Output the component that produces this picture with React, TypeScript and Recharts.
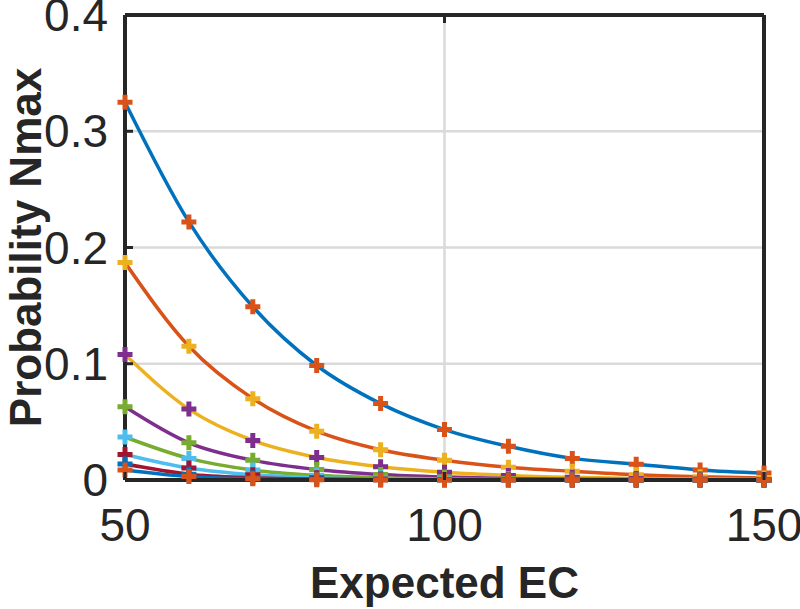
import React from 'react';
import { LineChart, Line, XAxis, YAxis, CartesianGrid } from 'recharts';

// Expected EC (x) and the probability curves
const expectedEC = [50, 60, 70, 80, 90, 100, 110, 120, 130, 140, 150];
const curve1 = [0.325, 0.222, 0.149, 0.0985, 0.0657, 0.0434, 0.029, 0.0186, 0.0136, 0.0087, 0.006];
const curve2 = [0.187, 0.115, 0.070, 0.042, 0.026, 0.017, 0.011, 0.0075, 0.0045, 0.0028, 0.0018];
const curve3 = [0.108, 0.061, 0.034, 0.0194, 0.0114, 0.0066, 0.0039, 0.0023, 0.0013, 0.0008, 0.0005];
const curve4 = [0.063, 0.032, 0.017, 0.009, 0.0047, 0.0025, 0.0013, 0.0007, 0.0004, 0.0002, 0.0001];
const curve5 = [0.037, 0.0186, 0.0086, 0.004, 0.0019, 0.0009, 0.0004, 0.0002, 0.0001, 0.00005, 0.00002];
const curve6 = [0.022, 0.0103, 0.0045, 0.002, 0.0009, 0.0004, 0.0002, 0.0001, 0.00004, 0.00002, 0.00001];
const curve7 = [0.0137, 0.005, 0.002, 0.0008, 0.0003, 0.0001, 0.00005, 0.00002, 0.00001, 0, 0];
const curve8 = [0.0086, 0.003, 0.001, 0.0003, 0.0001, 0.00004, 0.00001, 0, 0, 0, 0];

const xTicks = [50, 100, 150];
const yTicks = [0, 0.1, 0.2, 0.3, 0.4];

// matlab default colour order
const ORDER = ['#0072BD', '#D95319', '#EDB120', '#7E2F8E', '#77AC30', '#4DBEEE', '#A2142F'];

const curves = [curve1, curve2, curve3, curve4, curve5, curve6, curve7, curve8];
const data = expectedEC.map((x, i) => {
  const row: Record<string, number> = { x };
  curves.forEach((c, k) => { row[`s${k + 1}`] = c[i]; });
  return row;
});

const FONT = '"Liberation Sans", Arial, Helvetica, sans-serif';
const INK = '#262626';
const TICK_LEN = 8;

const LeftTick: React.FC<any> = ({ x, y, payload }) => (
  <g>
    <line x1={x} x2={x + TICK_LEN} y1={y} y2={y} stroke={INK} strokeWidth={3} />
    <text x={x - 17} y={y + 16} textAnchor="end" fontSize={46} fontFamily={FONT} fill={INK}>
      {payload.value === 0 ? '0' : Number(payload.value).toFixed(1)}
    </text>
  </g>
);

const RightTick: React.FC<any> = ({ x, y }) => (
  <line x1={x} x2={x - TICK_LEN} y1={y} y2={y} stroke={INK} strokeWidth={3} />
);

const BottomTick: React.FC<any> = ({ x, y, payload }) => (
  <g>
    <line x1={x} x2={x} y1={y} y2={y - TICK_LEN} stroke={INK} strokeWidth={3} />
    <text x={x} y={y + 61} textAnchor="middle" fontSize={46} fontFamily={FONT} fill={INK}>
      {payload.value}
    </text>
  </g>
);

const TopTick: React.FC<any> = ({ x, y }) => (
  <line x1={x} x2={x} y1={y} y2={y + TICK_LEN} stroke={INK} strokeWidth={3} />
);

const plusDot = (color: string) => (props: any) => {
  const { cx, cy, index } = props;
  if (cx == null || cy == null) return <g key={index} />;
  const h = 7.5;
  return (
    <path key={index} d={`M${cx - h},${cy}H${cx + h}M${cx},${cy - h}V${cy + h}`}
      stroke={color} strokeWidth={5} fill="none" />
  );
};

export default function App() {
  return (
    <div style={{ position: 'absolute', left: 0, top: 0, width: 800, height: 609, background: '#fff' }}>
      <LineChart width={800} height={609} data={data} margin={{ top: 14, right: 35, bottom: 0, left: 0 }}>
        <CartesianGrid xAxisId="bottom" yAxisId="left" stroke="#dadada" strokeWidth={2.5}
          verticalValues={[100]} horizontalValues={[0.1, 0.2, 0.3]} />
        <XAxis xAxisId="bottom" dataKey="x" type="number" domain={[50, 150]} ticks={xTicks} interval={0}
          height={129} tickSize={0} tickMargin={0} tickLine={false} tick={<BottomTick />}
          axisLine={{ stroke: INK, strokeWidth: 4 }}
          label={({ viewBox }: any) => (
            <text x={viewBox.x + viewBox.width / 2} y={viewBox.y + 118} textAnchor="middle"
              fontSize={44} fontWeight="bold" fontFamily={FONT} fill={INK}>Expected EC</text>
          )} />
        <XAxis xAxisId="top" orientation="top" dataKey="x" type="number" domain={[50, 150]} ticks={xTicks}
          interval={0} height={1} tickSize={0} tickMargin={0} tickLine={false} tick={<TopTick />}
          axisLine={{ stroke: INK, strokeWidth: 4 }} />
        <YAxis yAxisId="left" type="number" domain={[0, 0.4]} ticks={yTicks} interval={0} width={125}
          tickSize={0} tickMargin={0} tickLine={false} tick={<LeftTick />}
          axisLine={{ stroke: INK, strokeWidth: 4 }}
          label={({ viewBox }: any) => {
            const cy = viewBox.y + viewBox.height / 2;
            return (
              <text x={41} y={cy} transform={`rotate(-90 41 ${cy})`} textAnchor="middle"
                fontSize={44} fontWeight="bold" fontFamily={FONT} fill={INK}>Probability Nmax</text>
            );
          }} />
        <YAxis yAxisId="right" orientation="right" type="number" domain={[0, 0.4]} ticks={yTicks} interval={0}
          width={1} tickSize={0} tickMargin={0} tickLine={false} tick={<RightTick />}
          axisLine={{ stroke: INK, strokeWidth: 4 }} />

        {/* lines first, markers after (as matlab draws them) */}
        {curves.map((_, k) => (
          <Line key={`l${k}`} xAxisId="bottom" yAxisId="left" type="monotone" dataKey={`s${k + 1}`}
            stroke={ORDER[k % 7]} strokeWidth={3.5} dot={false} activeDot={false} isAnimationActive={false} />
        ))}
        {curves.map((_, k) => (
          <Line key={`m${k}`} xAxisId="bottom" yAxisId="left" type="monotone" dataKey={`s${k + 1}`}
            stroke="none" dot={plusDot(ORDER[(k + 1) % 7])} activeDot={false} isAnimationActive={false} />
        ))}
      </LineChart>
    </div>
  );
}
